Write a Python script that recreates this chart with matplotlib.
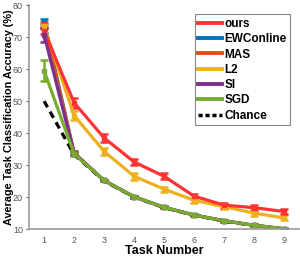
import matplotlib
matplotlib.use("Agg")
import matplotlib.pyplot as plt
from matplotlib.lines import Line2D

plt.rcParams['font.family'] = ['Liberation Sans', 'DejaVu Sans']

tasks = [1, 2, 3, 4, 5, 6, 7, 8, 9]
ours = [72.0, 49.5, 38.5, 31.0, 26.5, 20.3, 17.5, 16.7, 15.5]
ours_err = [1.0, 1.5, 1.3, 1.0, 0.9, 0.8, 0.8, 0.8, 0.8]
ewc = [75.0, 33.8, 25.2, 20.1, 16.8, 14.4, 12.6, 11.2, 10.1]
ewc_err = [0.8, 0.5, 0.3, 0.3, 0.3, 0.3, 0.3, 0.3, 0.3]
mas = [74.0, 33.8, 25.2, 20.1, 16.8, 14.4, 12.6, 11.2, 10.1]
mas_err = [0.8, 0.5, 0.3, 0.3, 0.3, 0.3, 0.3, 0.3, 0.3]
l2 = [73.4, 45.5, 34.3, 26.5, 22.5, 19.0, 17.0, 15.0, 13.5]
l2_err = [0.8, 1.3, 1.2, 1.0, 0.8, 0.8, 0.8, 0.8, 0.8]
si = [70.8, 33.6, 25.2, 20.1, 16.8, 14.4, 12.6, 11.2, 10.1]
si_err = [2.2, 0.5, 0.3, 0.3, 0.3, 0.3, 0.3, 0.3, 0.3]
sgd = [59.5, 33.5, 25.2, 20.1, 16.8, 14.4, 12.6, 11.2, 10.1]
sgd_err = [3.3, 0.5, 0.3, 0.3, 0.3, 0.3, 0.3, 0.3, 0.3]
chance = [50.0, 33.3, 25.0, 20.0, 16.7, 14.3, 12.5, 11.1, 10.0]

labels = ['ours', 'EWConline', 'MAS', 'L2', 'SI', 'SGD', 'Chance']
colors = ['#ff3333', '#0072bd', '#d95319', '#edb120', '#7e2f8e', '#77ac30', '#000000']

fig = plt.figure(figsize=(3.0, 2.56), dpi=100)
ax = fig.add_axes([0.097, 0.105, 0.90, 0.875])

series = [(ours, ours_err), (ewc, ewc_err), (mas, mas_err), (l2, l2_err),
          (si, si_err), (sgd, sgd_err)]
for i in [1, 2, 3, 0, 4, 5]:
    vals, err = series[i]
    ax.errorbar(tasks, vals, yerr=err, color=colors[i], lw=2.3,
                marker='s', ms=3, capsize=3, capthick=1.8, elinewidth=1.8,
                label=labels[i])
ax.plot(tasks, chance, color='black', lw=2.3, ls=(0, (2.2, 1.6)), label='Chance')

leg_handles = [Line2D([], [], color=c, lw=2.8) for c in colors[:6]]
leg_handles.append(Line2D([], [], color='black', lw=2.5, ls=(0, (1.2, 0.8))))
leg = ax.legend(leg_handles, labels, loc='upper right', bbox_to_anchor=(0.988, 0.985),
                prop={'weight': 'bold', 'size': 8.5}, handlelength=2.0,
                handletextpad=0.2, labelspacing=0.28, borderpad=0.3,
                fancybox=False, framealpha=1, edgecolor='#888888')
leg.get_frame().set_linewidth(0.8)

ax.set_xlim(0.5, 9.5)
ax.set_ylim(10, 80)
ax.set_xticks(tasks)
ax.set_yticks([10, 20, 30, 40, 50, 60, 70, 80])
ax.tick_params(axis='both', labelsize=6.5, colors='#555555', length=2.5, width=0.8)
ax.tick_params(axis='y', pad=2)
ax.tick_params(axis='x', length=0, pad=5)
for s in ['top', 'right']:
    ax.spines[s].set_visible(False)
for s in ['left', 'bottom']:
    ax.spines[s].set_color('#999999')
    ax.spines[s].set_linewidth(1.2)

ax.set_xlabel('Task Number', fontsize=9, fontweight='bold', labelpad=0)
ax.set_ylabel('Average Task Classification Accuracy (%)', fontsize=7.8,
              fontweight='bold')
ax.yaxis.set_label_coords(-0.057, 0.5)

fig.savefig('out.png', dpi=100)
